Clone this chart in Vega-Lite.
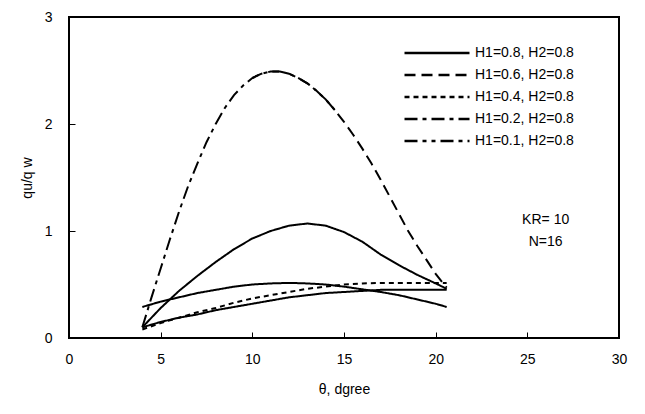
{
  "$schema": "https://vega.github.io/schema/vega-lite/v6.json",
  "autosize": {"type": "none"},
  "padding": {"left": 69, "top": 17, "right": 26, "bottom": 76},
  "width": 550,
  "height": 321,
  "config": {
    "font": "Liberation Sans",
    "view": {"stroke": "black", "strokeWidth": 2},
    "axis": {"domain": false, "zindex": 1, "ticks": true, "tickColor": "black", "tickWidth": 1, "tickOpacity": 1, "grid": false, "labelFlush": false, "labelColor": "black", "titleColor": "black", "labelFont": "Liberation Sans", "titleFont": "Liberation Sans", "labelFontSize": 14, "titleFontSize": 14, "titleFontWeight": "normal"}
  },
  "datasets": {
    "curves": [
      {"s": "H1=0.8, H2=0.8", "t": 4.0, "v": 0.1},
      {"s": "H1=0.8, H2=0.8", "t": 5.0, "v": 0.28},
      {"s": "H1=0.8, H2=0.8", "t": 6.0, "v": 0.44},
      {"s": "H1=0.8, H2=0.8", "t": 7.0, "v": 0.58},
      {"s": "H1=0.8, H2=0.8", "t": 8.0, "v": 0.71},
      {"s": "H1=0.8, H2=0.8", "t": 9.0, "v": 0.83},
      {"s": "H1=0.8, H2=0.8", "t": 10.0, "v": 0.93},
      {"s": "H1=0.8, H2=0.8", "t": 11.0, "v": 1.0},
      {"s": "H1=0.8, H2=0.8", "t": 12.0, "v": 1.05},
      {"s": "H1=0.8, H2=0.8", "t": 13.0, "v": 1.07},
      {"s": "H1=0.8, H2=0.8", "t": 14.0, "v": 1.05},
      {"s": "H1=0.8, H2=0.8", "t": 15.0, "v": 0.99},
      {"s": "H1=0.8, H2=0.8", "t": 16.0, "v": 0.9},
      {"s": "H1=0.8, H2=0.8", "t": 17.0, "v": 0.78},
      {"s": "H1=0.8, H2=0.8", "t": 18.0, "v": 0.68},
      {"s": "H1=0.8, H2=0.8", "t": 19.0, "v": 0.59},
      {"s": "H1=0.8, H2=0.8", "t": 20.0, "v": 0.51},
      {"s": "H1=0.8, H2=0.8", "t": 20.6, "v": 0.46},

      {"s": "H1=0.6, H2=0.8", "t": 10.0, "v": 2.43},
      {"s": "H1=0.6, H2=0.8", "t": 10.5, "v": 2.47},
      {"s": "H1=0.6, H2=0.8", "t": 11.0, "v": 2.49},
      {"s": "H1=0.6, H2=0.8", "t": 11.5, "v": 2.49},
      {"s": "H1=0.6, H2=0.8", "t": 12.0, "v": 2.47},
      {"s": "H1=0.6, H2=0.8", "t": 12.5, "v": 2.43},
      {"s": "H1=0.6, H2=0.8", "t": 13.0, "v": 2.38},
      {"s": "H1=0.6, H2=0.8", "t": 13.5, "v": 2.31},
      {"s": "H1=0.6, H2=0.8", "t": 14.0, "v": 2.23},
      {"s": "H1=0.6, H2=0.8", "t": 14.5, "v": 2.13},
      {"s": "H1=0.6, H2=0.8", "t": 15.0, "v": 2.02},
      {"s": "H1=0.6, H2=0.8", "t": 15.5, "v": 1.9},
      {"s": "H1=0.6, H2=0.8", "t": 16.0, "v": 1.77},
      {"s": "H1=0.6, H2=0.8", "t": 16.5, "v": 1.63},
      {"s": "H1=0.6, H2=0.8", "t": 17.0, "v": 1.48},
      {"s": "H1=0.6, H2=0.8", "t": 17.5, "v": 1.32},
      {"s": "H1=0.6, H2=0.8", "t": 18.0, "v": 1.16},
      {"s": "H1=0.6, H2=0.8", "t": 18.5, "v": 1.0},
      {"s": "H1=0.6, H2=0.8", "t": 19.0, "v": 0.86},
      {"s": "H1=0.6, H2=0.8", "t": 19.5, "v": 0.73},
      {"s": "H1=0.6, H2=0.8", "t": 20.0, "v": 0.6},
      {"s": "H1=0.6, H2=0.8", "t": 20.6, "v": 0.47},

      {"s": "H1=0.4, H2=0.8", "t": 4.0, "v": 0.08},
      {"s": "H1=0.4, H2=0.8", "t": 5.0, "v": 0.14},
      {"s": "H1=0.4, H2=0.8", "t": 6.0, "v": 0.19},
      {"s": "H1=0.4, H2=0.8", "t": 7.0, "v": 0.24},
      {"s": "H1=0.4, H2=0.8", "t": 8.0, "v": 0.28},
      {"s": "H1=0.4, H2=0.8", "t": 9.0, "v": 0.33},
      {"s": "H1=0.4, H2=0.8", "t": 10.0, "v": 0.37},
      {"s": "H1=0.4, H2=0.8", "t": 11.0, "v": 0.4},
      {"s": "H1=0.4, H2=0.8", "t": 12.0, "v": 0.43},
      {"s": "H1=0.4, H2=0.8", "t": 13.0, "v": 0.46},
      {"s": "H1=0.4, H2=0.8", "t": 14.0, "v": 0.48},
      {"s": "H1=0.4, H2=0.8", "t": 15.0, "v": 0.5},
      {"s": "H1=0.4, H2=0.8", "t": 16.0, "v": 0.51},
      {"s": "H1=0.4, H2=0.8", "t": 17.0, "v": 0.515},
      {"s": "H1=0.4, H2=0.8", "t": 18.0, "v": 0.515},
      {"s": "H1=0.4, H2=0.8", "t": 19.0, "v": 0.515},
      {"s": "H1=0.4, H2=0.8", "t": 20.0, "v": 0.515},
      {"s": "H1=0.4, H2=0.8", "t": 20.6, "v": 0.515},

      {"s": "H1=0.2, H2=0.8", "t": 4.0, "v": 0.1},
      {"s": "H1=0.2, H2=0.8", "t": 4.5, "v": 0.38},
      {"s": "H1=0.2, H2=0.8", "t": 5.0, "v": 0.65},
      {"s": "H1=0.2, H2=0.8", "t": 5.5, "v": 0.92},
      {"s": "H1=0.2, H2=0.8", "t": 6.0, "v": 1.18},
      {"s": "H1=0.2, H2=0.8", "t": 6.5, "v": 1.42},
      {"s": "H1=0.2, H2=0.8", "t": 7.0, "v": 1.63},
      {"s": "H1=0.2, H2=0.8", "t": 7.5, "v": 1.83},
      {"s": "H1=0.2, H2=0.8", "t": 8.0, "v": 2.0},
      {"s": "H1=0.2, H2=0.8", "t": 8.5, "v": 2.15},
      {"s": "H1=0.2, H2=0.8", "t": 9.0, "v": 2.27},
      {"s": "H1=0.2, H2=0.8", "t": 9.5, "v": 2.36},
      {"s": "H1=0.2, H2=0.8", "t": 10.0, "v": 2.43},
      {"s": "H1=0.2, H2=0.8", "t": 10.5, "v": 2.47},
      {"s": "H1=0.2, H2=0.8", "t": 11.0, "v": 2.49},
      {"s": "H1=0.2, H2=0.8", "t": 11.5, "v": 2.49},
      {"s": "H1=0.2, H2=0.8", "t": 12.0, "v": 2.47},
      {"s": "H1=0.2, H2=0.8", "t": 12.5, "v": 2.43},
      {"s": "H1=0.2, H2=0.8", "t": 13.0, "v": 2.38},
      {"s": "H1=0.2, H2=0.8", "t": 13.5, "v": 2.31},
      {"s": "H1=0.2, H2=0.8", "t": 14.0, "v": 2.23},
      {"s": "H1=0.2, H2=0.8", "t": 14.5, "v": 2.13},

      {"s": "curve 6", "t": 4.0, "v": 0.29},
      {"s": "curve 6", "t": 5.0, "v": 0.34},
      {"s": "curve 6", "t": 6.0, "v": 0.38},
      {"s": "curve 6", "t": 7.0, "v": 0.42},
      {"s": "curve 6", "t": 8.0, "v": 0.45},
      {"s": "curve 6", "t": 9.0, "v": 0.48},
      {"s": "curve 6", "t": 10.0, "v": 0.5},
      {"s": "curve 6", "t": 11.0, "v": 0.51},
      {"s": "curve 6", "t": 12.0, "v": 0.515},
      {"s": "curve 6", "t": 13.0, "v": 0.51},
      {"s": "curve 6", "t": 14.0, "v": 0.5},
      {"s": "curve 6", "t": 15.0, "v": 0.48},
      {"s": "curve 6", "t": 16.0, "v": 0.455},
      {"s": "curve 6", "t": 17.0, "v": 0.43},
      {"s": "curve 6", "t": 18.0, "v": 0.4},
      {"s": "curve 6", "t": 19.0, "v": 0.36},
      {"s": "curve 6", "t": 20.0, "v": 0.32},
      {"s": "curve 6", "t": 20.6, "v": 0.29},

      {"s": "curve 7", "t": 4.0, "v": 0.1},
      {"s": "curve 7", "t": 5.0, "v": 0.15},
      {"s": "curve 7", "t": 6.0, "v": 0.19},
      {"s": "curve 7", "t": 7.0, "v": 0.22},
      {"s": "curve 7", "t": 8.0, "v": 0.26},
      {"s": "curve 7", "t": 9.0, "v": 0.29},
      {"s": "curve 7", "t": 10.0, "v": 0.32},
      {"s": "curve 7", "t": 11.0, "v": 0.35},
      {"s": "curve 7", "t": 12.0, "v": 0.38},
      {"s": "curve 7", "t": 13.0, "v": 0.4},
      {"s": "curve 7", "t": 14.0, "v": 0.42},
      {"s": "curve 7", "t": 15.0, "v": 0.43},
      {"s": "curve 7", "t": 16.0, "v": 0.44},
      {"s": "curve 7", "t": 17.0, "v": 0.45},
      {"s": "curve 7", "t": 18.0, "v": 0.45},
      {"s": "curve 7", "t": 19.0, "v": 0.45},
      {"s": "curve 7", "t": 20.0, "v": 0.45},
      {"s": "curve 7", "t": 20.6, "v": 0.45}
    ],
    "notes": [
      {"label": "KR= 10"}
    ],
    "notes2": [
      {"label": "N=16"}
    ]
  },
  "layer": [
    {
      "data": {"name": "curves"},
      "mark": {"type": "line", "color": "black", "strokeWidth": 2, "clip": true},
      "encoding": {
        "x": {"field": "t", "type": "quantitative", "scale": {"domain": [0, 30], "nice": false, "zero": false},
          "axis": {"orient": "bottom", "values": [0, 5, 10, 15, 20, 25, 30], "format": "d", "labelFlush": false, "offset": -6, "tickSize": 6, "labelPadding": 14, "title": "θ,  dgree", "titlePadding": 16}},
        "y": {"field": "v", "type": "quantitative", "scale": {"domain": [0, 3], "nice": false},
          "axis": {"orient": "left", "values": [0, 1, 2, 3], "format": "d", "labelFlush": false, "offset": -6, "tickSize": 6, "labelPadding": 17, "title": "qu/q w", "titlePadding": 10}},
        "strokeDash": {"field": "s", "type": "nominal",
          "scale": {"domain": ["H1=0.8, H2=0.8", "H1=0.6, H2=0.8", "H1=0.4, H2=0.8", "H1=0.2, H2=0.8", "H1=0.1, H2=0.8", "curve 6", "curve 7"],
                    "range": [[1, 0], [11, 6], [5, 4], [13, 5, 4, 5], [13, 5, 4, 5, 4, 5], [1, 0], [1, 0]]},
          "legend": {"values": ["H1=0.8, H2=0.8", "H1=0.6, H2=0.8", "H1=0.4, H2=0.8", "H1=0.2, H2=0.8", "H1=0.1, H2=0.8"],
                     "title": null, "orient": "none", "legendX": 334, "legendY": 25,
                     "symbolSize": 4225, "symbolStrokeWidth": 2.5, "symbolStrokeColor": "black", "clipHeight": 22,
                     "labelFontSize": 14, "labelColor": "black", "labelFont": "Liberation Sans", "labelOffset": 4, "rowPadding": 0}}
      }
    },
    {
      "data": {"name": "notes"},
      "mark": {"type": "text", "fontSize": 14, "font": "Liberation Sans", "fill": "black", "align": "center", "baseline": "middle"},
      "encoding": {
        "x": {"datum": 26.0, "type": "quantitative"},
        "y": {"datum": 1.1, "type": "quantitative"},
        "text": {"field": "label"}
      }
    },
    {
      "data": {"name": "notes2"},
      "mark": {"type": "text", "fontSize": 14, "font": "Liberation Sans", "fill": "black", "align": "center", "baseline": "middle"},
      "encoding": {
        "x": {"datum": 26.0, "type": "quantitative"},
        "y": {"datum": 0.9, "type": "quantitative"},
        "text": {"field": "label"}
      }
    }
  ]
}
